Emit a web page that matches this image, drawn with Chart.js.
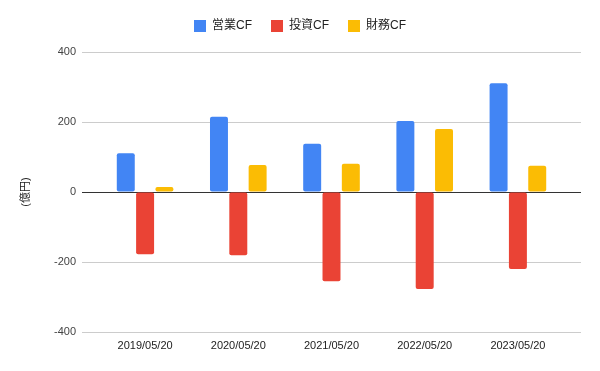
<!DOCTYPE html>
<html>
<head>
<meta charset="utf-8">
<script src="https://cdn.jsdelivr.net/npm/chart.js@4.4.0/dist/chart.umd.min.js"></script>
<style>
  body { margin: 0; background: #fff; }
  canvas { display: block; }
</style>
</head>
<body>
<canvas id="cfChart" width="600" height="371"></canvas>
<script>
const periods = ['2019/05/20', '2020/05/20', '2021/05/20', '2022/05/20', '2023/05/20'];
const operatingCF = [111, 215, 138, 203, 311];
const investingCF = [-178, -181, -255, -277, -220];
const financingCF = [14, 77, 81, 180, 75];
const yTicks = [-400, -200, 0, 200, 400];

const FONT = "Arial, 'Liberation Sans', 'Noto Sans CJK JP', sans-serif";
const RIGHT_PAD = 19;

function toPoints(values) {
    return values.map((v, i) => ({ x: i, y: v }));
}

// legend: fixed height, and centred on the whole canvas instead of the padded box
const legendPlugin = {
    id: 'legendTweak',
    afterInit(chart) {
        const legend = chart.legend;
        const fit = legend.fit;
        legend.fit = function () {
            fit.call(this);
            this.height = 51;
        };
        const draw = legend.draw;
        legend.draw = function () {
            this.right += RIGHT_PAD;
            draw.call(this);
            this.right -= RIGHT_PAD;
        };
    }
};

const ctx = document.getElementById('cfChart').getContext('2d');

new Chart(ctx, {
    type: 'bar',
    data: {
        datasets: [
            { label: '営業CF', data: toPoints(operatingCF), backgroundColor: '#4285F4' },
            { label: '投資CF', data: toPoints(investingCF), backgroundColor: '#EA4335' },
            { label: '財務CF', data: toPoints(financingCF), backgroundColor: '#FBBC04' }
        ]
    },
    options: {
        responsive: false,
        animation: false,
        layout: { padding: { left: 0, right: RIGHT_PAD, top: 1, bottom: 0 } },
        datasets: {
            bar: {
                categoryPercentage: 0.622,
                barPercentage: 0.93,
                borderRadius: 2,
                borderSkipped: false
            }
        },
        plugins: {
            legend: {
                position: 'top',
                labels: {
                    boxWidth: 12,
                    boxHeight: 12,
                    padding: 19,
                    color: '#222',
                    font: { family: FONT, size: 12 }
                }
            },
            tooltip: { enabled: false }
        },
        scales: {
            x: {
                type: 'linear',
                offset: false,
                min: -0.677,
                max: 4.677,
                afterBuildTicks: (scale) => {
                    scale.ticks = periods.map((p, i) => ({ value: i }));
                },
                afterFit: (scale) => { scale.height = 39; },
                ticks: {
                    callback: (v) => periods[v],
                    color: '#222',
                    padding: 7,
                    maxRotation: 0,
                    font: { family: FONT, size: 11 }
                },
                grid: { display: false, drawTicks: false },
                border: { display: false }
            },
            y: {
                min: -400,
                max: 400,
                afterBuildTicks: (scale) => {
                    scale.ticks = yTicks.map(v => ({ value: v }));
                },
                afterFit: (scale) => { scale.width = 82; },
                ticks: {
                    color: '#444',
                    padding: 6,
                    font: { family: FONT, size: 11 }
                },
                grid: {
                    drawTicks: false,
                    color: (c) => (c.tick && c.tick.value === 0 ? '#333' : '#ccc')
                },
                border: { display: false },
                title: {
                    display: true,
                    text: '(億円)',
                    color: '#222',
                    padding: { top: 19, bottom: 0 },
                    font: { family: FONT, size: 11 }
                }
            }
        }
    },
    plugins: [legendPlugin]
});
</script>
</body>
</html>
